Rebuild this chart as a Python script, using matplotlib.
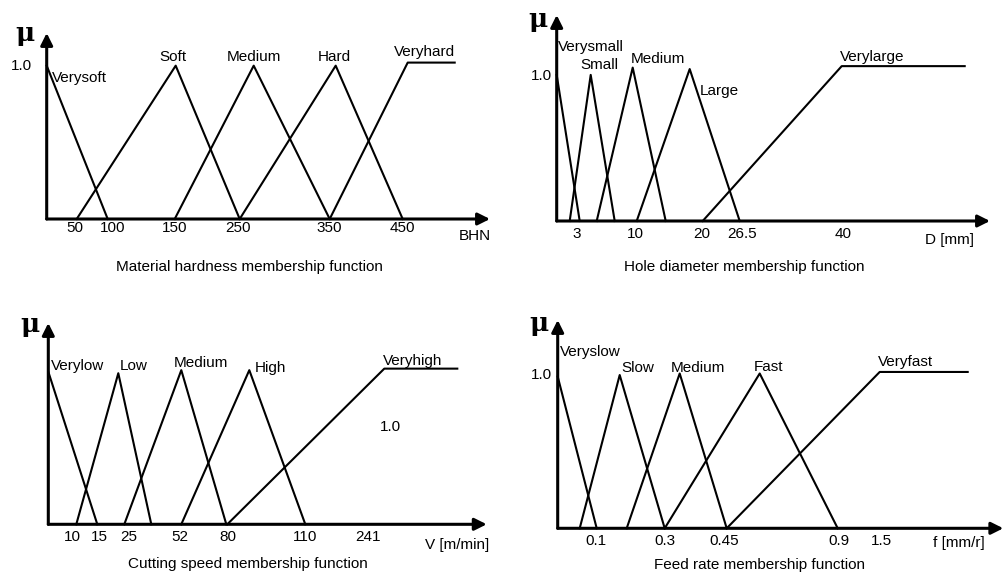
import matplotlib
matplotlib.use("Agg")
import matplotlib.pyplot as plt

plt.rcParams['font.family'] = ['Liberation Sans', 'DejaVu Sans']

# x values are positions along each (not to scale) schematic axis, origin = 0
# y values are membership degrees

# --- material hardness ---
hard_names = ['Verysoft', 'Soft', 'Medium', 'Hard', 'Veryhard']
hard_x = [[0, 61], [30, 129, 193], [128, 207, 283], [193, 289, 356], [283, 361, 408]]
hard_y = [[1.0, 0], [0, 1.0, 0], [0, 1.0, 0], [0, 1.0, 0], [0, 1.02, 1.02]]
hard_ticks = [28, 66, 128, 191, 283, 356]
hard_ticklabels = ['50', '100', '150', '250', '350', '450']

# --- hole diameter ---
hole_names = ['Verysmall', 'Small', 'Medium', 'Large', 'Verylarge']
hole_x = [[0, 23], [13, 34, 58], [40, 76, 109], [80, 133, 183], [146, 285, 408]]
hole_y = [[1.0, 0], [0, 1.0, 0], [0, 1.05, 0], [0, 1.04, 0], [0, 1.06, 1.06]]
hole_ticks = [20, 79, 145, 185, 286]
hole_ticklabels = ['3', '10', '20', '26.5', '40']

# --- cutting speed ---
speed_names = ['Verylow', 'Low', 'Medium', 'High', 'Veryhigh']
speed_x = [[0, 49], [28, 70, 103], [76, 133, 178], [133, 201, 257], [179, 336, 409]]
speed_y = [[1.0, 0], [0, 0.99, 0], [0, 1.01, 0], [0, 1.01, 0], [0, 1.02, 1.02]]
speed_ticks = [24, 51, 80, 132, 180, 257, 320]
speed_ticklabels = ['10', '15', '25', '52', '80', '110', '241']

# --- feed rate ---
feed_names = ['Veryslow', 'Slow', 'Medium', 'Fast', 'Veryfast']
feed_x = [[0, 39], [22, 62, 107], [69, 122, 169], [107, 202, 280], [169, 322, 410]]
feed_y = [[0.99, 0], [0, 1.0, 0], [0, 1.01, 0], [0, 1.01, 0], [0, 1.02, 1.02]]
feed_ticks = [38, 107, 166, 281, 324]
feed_ticklabels = ['0.1', '0.3', '0.45', '0.9', '1.5']

FS = 11


def draw_panel(fig, rect, xmax, ymax, xs, ys, ticks, ticklabels, pad,
               names, name_pos, name_ha, one_pos, mu_pos, unit, unit_pos,
               title, title_pos):
    ax = fig.add_axes(rect)
    ax.set_xlim(0, xmax)
    ax.set_ylim(0, ymax)
    for s in ax.spines.values():
        s.set_visible(False)
    ax.set_yticks([])
    ax.set_xticks(ticks, ticklabels)
    ax.tick_params(axis='x', length=0, pad=pad, labelsize=FS)

    # axis arrows
    arrow = dict(arrowstyle='-|>', color='black', lw=2.2, mutation_scale=18,
                 shrinkA=0, shrinkB=0)
    ax.annotate('', xy=(xmax, 0), xytext=(0, 0), arrowprops=arrow,
                annotation_clip=False)
    ax.annotate('', xy=(0, ymax), xytext=(0, 0), arrowprops=arrow,
                annotation_clip=False)

    for x, y in zip(xs, ys):
        ax.plot(x, y, color='black', lw=1.5, clip_on=False)

    for name, (px, py), ha in zip(names, name_pos, name_ha):
        ax.text(px, py, name, ha=ha, va='center', fontsize=FS, clip_on=False)

    ax.text(one_pos[0], one_pos[1], '1.0', ha='center', va='center', fontsize=FS)
    ax.text(mu_pos[0], mu_pos[1], 'μ', ha='center', va='center', fontsize=19,
            fontweight='bold', family='DejaVu Serif')
    ax.text(unit_pos[0], unit_pos[1], unit, ha='center', va='center', fontsize=FS)
    ax.text(title_pos[0], title_pos[1], title, ha='center', va='center', fontsize=FS)
    return ax


W, H = 1005, 574
fig = plt.figure(figsize=(W / 100, H / 100), dpi=100)


def rect(x0, yb, xt, yt):
    return [x0 / W, 1 - yb / H, (xt - x0) / W, (yb - yt) / H]


draw_panel(fig, rect(46.7, 219, 490, 33), 443.3, 1.213,
           hard_x, hard_y, hard_ticks, hard_ticklabels, 1.5,
           hard_names,
           [(5, 0.92), (126, 1.057), (207, 1.057), (288, 1.057), (378, 1.089)],
           ['left', 'center', 'center', 'center', 'center'],
           (-25, 1.0), (-22, 1.213), 'BHN', (428, -0.111),
           'Material hardness membership function', (203, -0.313))

draw_panel(fig, rect(556.7, 221, 990, 15), 433.3, 1.41,
           hole_x, hole_y, hole_ticks, hole_ticklabels, 4,
           hole_names,
           [(1.6, 1.194), (43, 1.068), (74, 1.11), (143, 0.892), (315, 1.125)],
           ['left', 'center', 'left', 'left', 'center'],
           (-15, 0.993), (-19, 1.377), 'D [mm]', (393, -0.13),
           'Hole diameter membership function', (188, -0.315))

draw_panel(fig, rect(48.3, 524.3, 486.7, 323), 438.4, 1.319,
           speed_x, speed_y, speed_ticks, speed_ticklabels, 4,
           speed_names,
           [(2.4, 1.037), (71, 1.037), (153, 1.055), (206, 1.026), (364, 1.072)],
           ['left', 'left', 'center', 'left', 'center'],
           (342, 0.636), (-18, 1.306), 'V [m/min]', (409, -0.136),
           'Cutting speed membership function', (200, -0.26))

draw_panel(fig, rect(557.7, 528.3, 1003.3, 320), 445.6, 1.359,
           feed_x, feed_y, feed_ticks, feed_ticklabels, 4,
           feed_names,
           [(2.3, 1.152), (64, 1.048), (140, 1.048), (211, 1.054), (348, 1.083)],
           ['left', 'left', 'center', 'center', 'center'],
           (-16, 1.0), (-19, 1.339), 'f [mm/r]', (401, -0.098),
           'Feed rate membership function', (202, -0.239))

fig.savefig('out.png', dpi=100)
